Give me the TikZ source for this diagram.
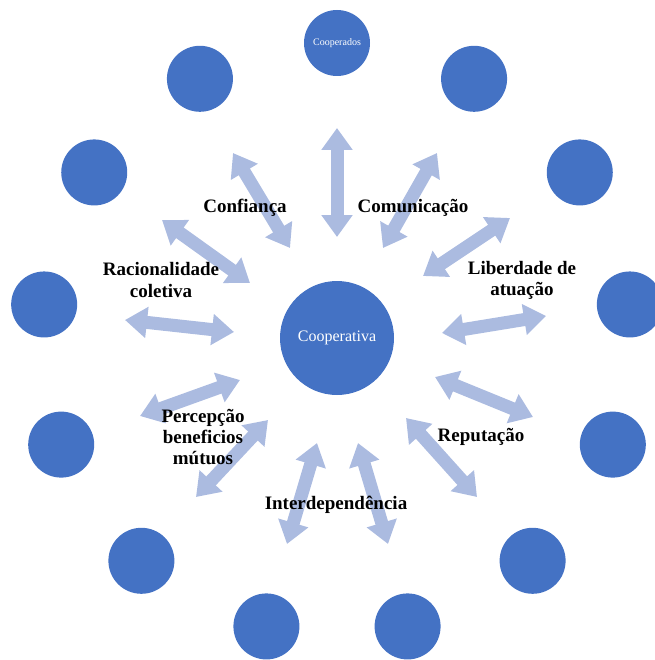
\documentclass[tikz,border=0pt]{standalone}
\usepackage{fontspec}
\setmainfont{Liberation Serif}
\usetikzlibrary{arrows.meta}
\definecolor{cblue}{HTML}{4472C4}
\definecolor{alight}{HTML}{ABBBE0}
\begin{document}
\begin{tikzpicture}[x=1pt,y=-1pt,
  sat/.style={circle, fill=cblue, minimum size=66pt, inner sep=0pt, text=white, font=\fontsize{10}{11}\selectfont},
  hub/.style={circle, fill=cblue, minimum size=114pt, inner sep=0pt, text=white, font=\fontsize{16}{18}\selectfont},
  link/.style={draw=alight, line width=13pt, {Triangle[width=30pt,length=22pt]}-{Triangle[width=30pt,length=22pt]}},
  lbl/.style={font=\bfseries\fontsize{19}{21}\selectfont, align=center, inner sep=0pt}]
\useasboundingbox (0,0) rectangle (654,660);
% hub
\node[hub] (hub) at (337,338) {Cooperativa};
% satellites on a ring
\node[sat] (coop) at ({337+295*cos(90)},{338-295*sin(90)}) {Cooperados};
\foreach \k in {1,...,12}{
  \node[sat] (s\k) at ({337+295*cos(90+\k*360/13)},{340-295*sin(90+\k*360/13)}) {};
}
% arrow end points
\coordinate (a1) at (337,128);  \coordinate (b1) at (337,237);
\coordinate (a2) at (233,153);  \coordinate (b2) at (290,248);
\coordinate (a3) at (437,153);  \coordinate (b3) at (383,248);
\coordinate (a4) at (162,220);  \coordinate (b4) at (250,283);
\coordinate (a5) at (510,218);  \coordinate (b5) at (423,276);
\coordinate (a6) at (125,320);  \coordinate (b6) at (234,332);
\coordinate (a7) at (546,316);  \coordinate (b7) at (442,333);
\coordinate (a8) at (140,416);  \coordinate (b8) at (240,380);
\coordinate (a9) at (196,497);  \coordinate (b9) at (268,420);
\coordinate (a10) at (287,544); \coordinate (b10) at (317,443);
\coordinate (a11) at (388,544); \coordinate (b11) at (358,443);
\coordinate (a12) at (477,497); \coordinate (b12) at (406,418);
\coordinate (a13) at (533,417); \coordinate (b13) at (435,377);
\foreach \i in {1,...,13}{ \draw[link] (a\i) -- (b\i); }
% labels
\node[lbl] (confianca) at (245,208) {Confiança};
\node[lbl] (comunicacao) at (413,208) {Comunicação};
\node[lbl] (racional) at (161,280) {Racionalidade\\coletiva};
\node[lbl] (liberdade) at (522,280) {Liberdade de\\atuação};
\node[lbl] (percepcao) at (203,437) {Percepção\\beneficios\\mútuos};
\node[lbl] (reputacao) at (481,437) {Reputação};
\node[lbl] (interdep) at (336,505) {Interdependência};
\end{tikzpicture}
\end{document}
